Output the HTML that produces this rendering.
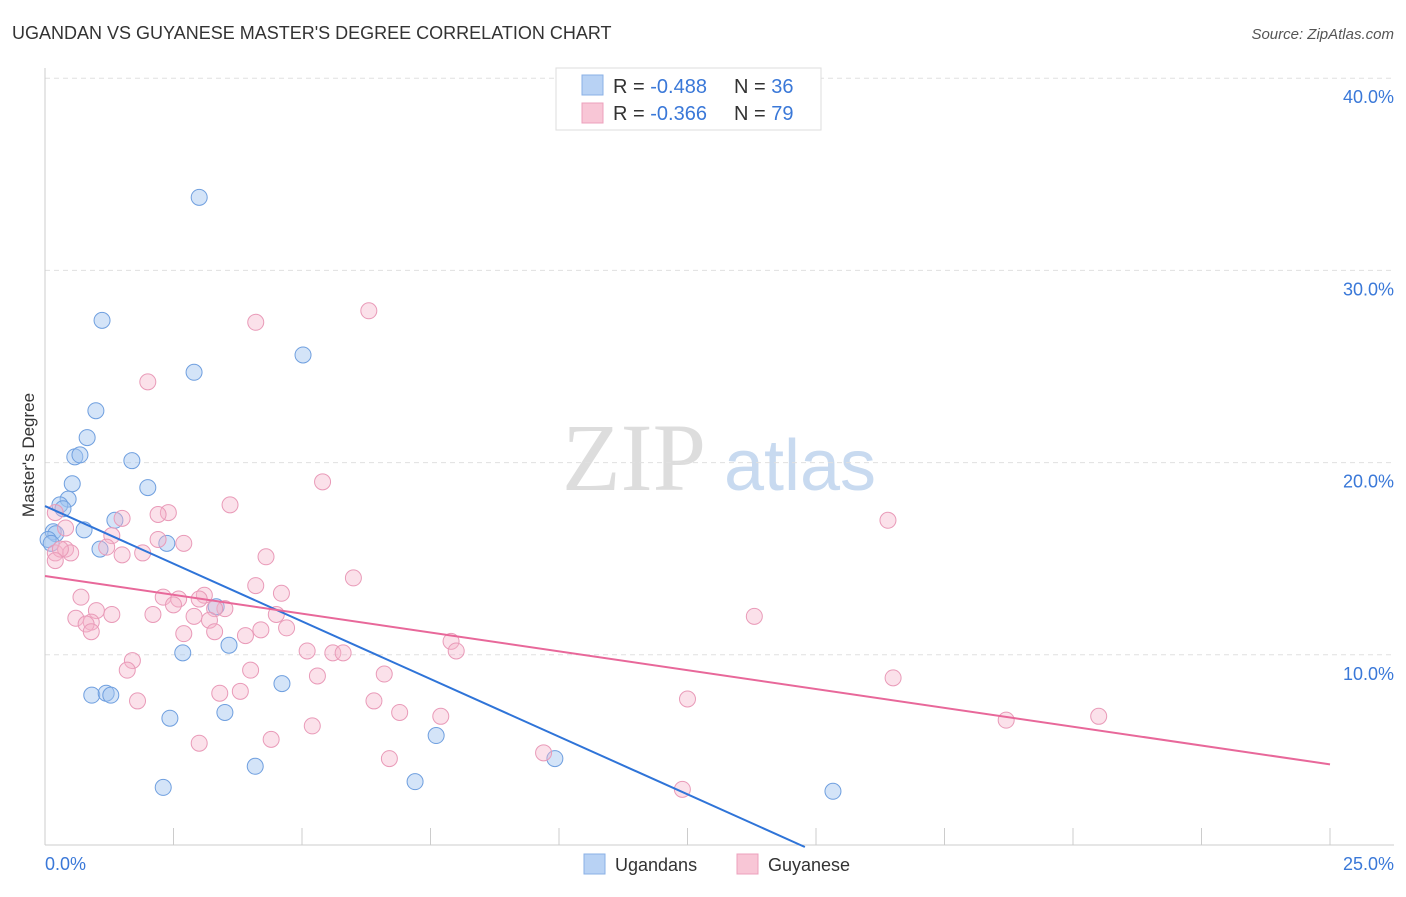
<!DOCTYPE html>
<html><head><meta charset="utf-8"><style>
body{margin:0;background:#fff;font-family:"Liberation Sans",sans-serif}
</style></head><body>
<svg width="1406" height="892" xmlns="http://www.w3.org/2000/svg" font-family="Liberation Sans, sans-serif">
<text x="12" y="39" font-size="18" fill="#333">UGANDAN VS GUYANESE MASTER'S DEGREE CORRELATION CHART</text>
<text x="1394" y="39" font-size="15" fill="#555" text-anchor="end" font-style="italic">Source: ZipAtlas.com</text>
<text x="634" y="490" font-size="96" fill="#ddd" font-family="Liberation Serif, serif" text-anchor="middle">ZIP</text>
<text x="800" y="490" font-size="72" fill="#c8daf0" text-anchor="middle">atlas</text>
<g id="grid"></g><g id="axes"></g><g id="pts"></g><g id="trends"></g>
<text transform="translate(34,455) rotate(-90)" font-size="17" fill="#333" text-anchor="middle">Master's Degree</text>
<text x="45" y="870" font-size="18" fill="#3a78d8">0.0%</text>
<text x="1394" y="870" font-size="18" fill="#3a78d8" text-anchor="end">25.0%</text>
<g>
<rect x="556" y="68" width="265" height="62" fill="#fff" stroke="#ddd"/>
<rect x="582" y="75" width="21" height="20" fill="#b8d2f4" stroke="#8ab0e6"/>
<rect x="582" y="103" width="21" height="20" fill="#f8c6d6" stroke="#eca0bc"/>
<text x="613" y="93" font-size="20" fill="#333">R = <tspan fill="#3a78d8">-0.488</tspan><tspan x="734">N = </tspan><tspan fill="#3a78d8">36</tspan></text>
<text x="613" y="120" font-size="20" fill="#333">R = <tspan fill="#3a78d8">-0.366</tspan><tspan x="734">N = </tspan><tspan fill="#3a78d8">79</tspan></text>
</g>
<g>
<rect x="584" y="854" width="21" height="20" fill="#b8d2f4" stroke="#8ab0e6"/>
<text x="615" y="871" font-size="18" fill="#333">Ugandans</text>
<rect x="737" y="854" width="21" height="20" fill="#f8c6d6" stroke="#eca0bc"/>
<text x="768" y="871" font-size="18" fill="#333">Guyanese</text>
</g>
</svg>
<script>
const yTicks=[10,20,30,40];
const yTickLabels=["10.0%","20.0%","30.0%","40.0%"];
const ugX=[3.0,1.11,5.02,2.9,0.99,0.82,0.58,0.68,1.69,2.0,0.53,0.45,0.29,0.35,0.16,0.21,0.06,0.12,0.76,1.36,2.37,1.07,3.33,2.68,3.58,0.91,1.19,1.28,4.61,2.43,3.5,4.09,2.3,7.61,7.2,9.92,15.33];
const ugY=[33.8,27.4,25.6,24.7,22.7,21.3,20.3,20.4,20.1,18.7,18.9,18.1,17.8,17.6,16.4,16.3,16.0,15.8,16.5,17.0,15.8,15.5,12.5,10.1,10.5,7.9,8.0,7.9,8.5,6.7,7.0,4.2,3.1,5.8,3.4,4.6,2.9];
const guX=[6.3,4.1,2.0,5.4,3.6,16.4,2.4,2.2,1.5,0.2,0.4,1.3,2.2,2.7,1.2,0.2,0.4,0.5,0.3,0.2,1.9,1.5,4.3,6.0,4.1,4.6,2.3,2.6,3.1,3.0,0.7,2.5,3.5,3.3,1.0,2.1,2.9,1.3,0.6,0.9,3.2,4.5,0.8,0.9,4.2,4.7,2.7,3.3,3.9,7.9,8.0,5.1,5.6,5.8,13.8,1.7,1.6,4.0,6.6,5.3,16.5,3.8,3.4,1.8,6.4,6.9,7.7,12.5,18.7,20.5,5.2,4.4,3.0,6.7,9.7,12.4];
const guY=[27.9,27.3,24.2,19.0,17.8,17.0,17.4,17.3,17.1,17.4,16.6,16.2,16.0,15.8,15.6,15.3,15.5,15.3,15.5,14.9,15.3,15.2,15.1,14.0,13.6,13.2,13.0,12.9,13.1,12.9,13.0,12.6,12.4,12.4,12.3,12.1,12.0,12.1,11.9,11.7,11.8,12.1,11.6,11.2,11.3,11.4,11.1,11.2,11.0,10.7,10.2,10.2,10.1,10.1,12.0,9.7,9.2,9.2,9.0,8.9,8.8,8.1,8.0,7.6,7.6,7.0,6.8,7.7,6.6,6.8,6.3,5.6,5.4,4.6,4.9,3.0];
const ugTrend=[17.74,-1.2];
const guTrend=[14.1,-0.392];
const NS="http://www.w3.org/2000/svg";
const X=v=>45+v/25*1285, Y=v=>847-v*19.22;
function mk(t,a,p){const e=document.createElementNS(NS,t);for(const k in a)e.setAttribute(k,a[k]);p.appendChild(e);return e;}
const grid=document.getElementById('grid'),axes=document.getElementById('axes'),pts=document.getElementById('pts'),tr=document.getElementById('trends');
yTicks.forEach((t,i)=>{
 const l=mk('line',{x1:45,x2:1394,y1:Y(t),y2:Y(t),stroke:'#e0e0e0','stroke-dasharray':'5,4'},grid);
 
 
 const tx=mk('text',{x:1394,y:Y(t)+25,'font-size':18,fill:'#3a78d8','text-anchor':'end'},grid);
 tx.textContent=yTickLabels[i];
 
 
});
let a=mk('line',{x1:45,x2:45,y1:68,y2:845,stroke:'#ccc'},axes);


a=mk('line',{x1:45,x2:1394,y1:845,y2:845,stroke:'#ccc'},axes);


for(let i=0;i<=10;i++){const t=mk('line',{x1:X(i*2.5),x2:X(i*2.5),y1:828,y2:845,stroke:'#ccc'},axes);
 
 }
ugX.forEach((v,i)=>{const c=mk('circle',{cx:X(v),cy:Y(ugY[i]),r:8,fill:'rgba(160,196,240,0.45)',stroke:'#6f9fdf','stroke-width':1},pts);
 
 });
guX.forEach((v,i)=>{const c=mk('circle',{cx:X(v),cy:Y(guY[i]),r:8,fill:'rgba(245,180,202,0.4)',stroke:'#e99ab8','stroke-width':1},pts);
 
 });
const ux2=-ugTrend[0]/ugTrend[1];
let t1=mk('line',{x1:X(0),y1:Y(ugTrend[0]),x2:X(ux2),y2:Y(0),stroke:'#2f74d8','stroke-width':2},tr);


let t2=mk('line',{x1:X(0),y1:Y(guTrend[0]),x2:X(25),y2:Y(guTrend[0]+guTrend[1]*25),stroke:'#e8689a','stroke-width':2},tr);


</script>
</body></html>
